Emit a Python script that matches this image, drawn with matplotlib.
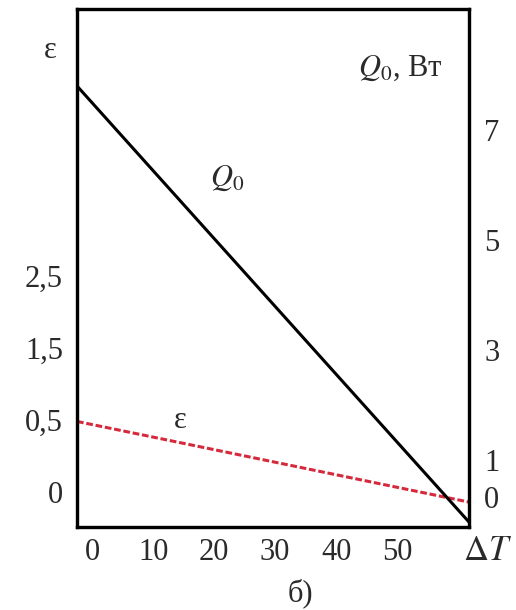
import numpy as np
import matplotlib
matplotlib.use("Agg")
import matplotlib.pyplot as plt

plt.rcParams['font.family'] = ['Liberation Serif', 'DejaVu Serif']
plt.rcParams['mathtext.fontset'] = 'stix'

# data
dT_line = [-2.5, 61.8]
q0_vals = [7.8, -0.13]
eps_vals = [0.49, -0.07]

x_ticks = [0, 10, 20, 30, 40, 50]
eps_tick_pos = [0, 0.5, 1.0, 1.5]
eps_tick_labels = ['0', '0,5', '1,5', '2,5']
q_tick_pos = [7, 5, 3, 1, 0.33]
q_tick_labels = ['7', '5', '3', '1', '0']

W, H = 516, 610
fig = plt.figure(figsize=(W / 100, H / 100), dpi=100)
ax = fig.add_axes([77 / W, 1 - 527 / H, 392 / W, 518 / H])
ax2 = ax.twinx()

txt = '#2a2a2a'
fs = 22

ax.set_xlim(-2.5, 61.8)
ax.set_ylim(-0.243, 3.354)
ax2.set_ylim(-0.22, 9.2)

ax2.plot(dT_line, q0_vals, color='black', lw=2.2, solid_capstyle='butt')
ax.plot(dT_line, eps_vals, color='#d42a3c', lw=2.2, dashes=(2.2, 0.9))

ax.set_xticks(x_ticks)
ax.set_xticklabels([str(v) for v in x_ticks])
ax.set_yticks(eps_tick_pos)
ax.set_yticklabels(eps_tick_labels)
ax2.set_yticks(q_tick_pos)
ax2.set_yticklabels(q_tick_labels)

ax.tick_params(axis='x', length=0, pad=8, labelsize=fs, labelcolor=txt)
ax.tick_params(axis='y', length=0, pad=10, labelsize=fs, labelcolor=txt)
ax2.tick_params(axis='y', length=0, pad=11, labelsize=fs, labelcolor=txt)

for a in (ax, ax2):
    for s in a.spines.values():
        s.set_linewidth(2.3)
        s.set_color('black')

# labels
fig.text(50 / W, 1 - 50 / H, 'ε', fontsize=fs, color=txt, ha='center', va='center')
fig.text(400 / W, 1 - 68 / H, '$Q_0$, Вт', fontsize=fs, color=txt, ha='center', va='center')
fig.text(227 / W, 1 - 178 / H, '$Q_0$', fontsize=fs, color=txt, ha='center', va='center')
fig.text(180 / W, 1 - 420 / H, 'ε', fontsize=fs, color=txt, ha='center', va='center')
fig.text(488 / W, 1 - 552 / H, r'$\Delta T$', fontsize=fs + 3, color=txt, ha='center', va='center')
fig.text(300 / W, 1 - 593 / H, 'б)', fontsize=fs, color=txt, ha='center', va='center')

fig.savefig('out.png', dpi=100)
